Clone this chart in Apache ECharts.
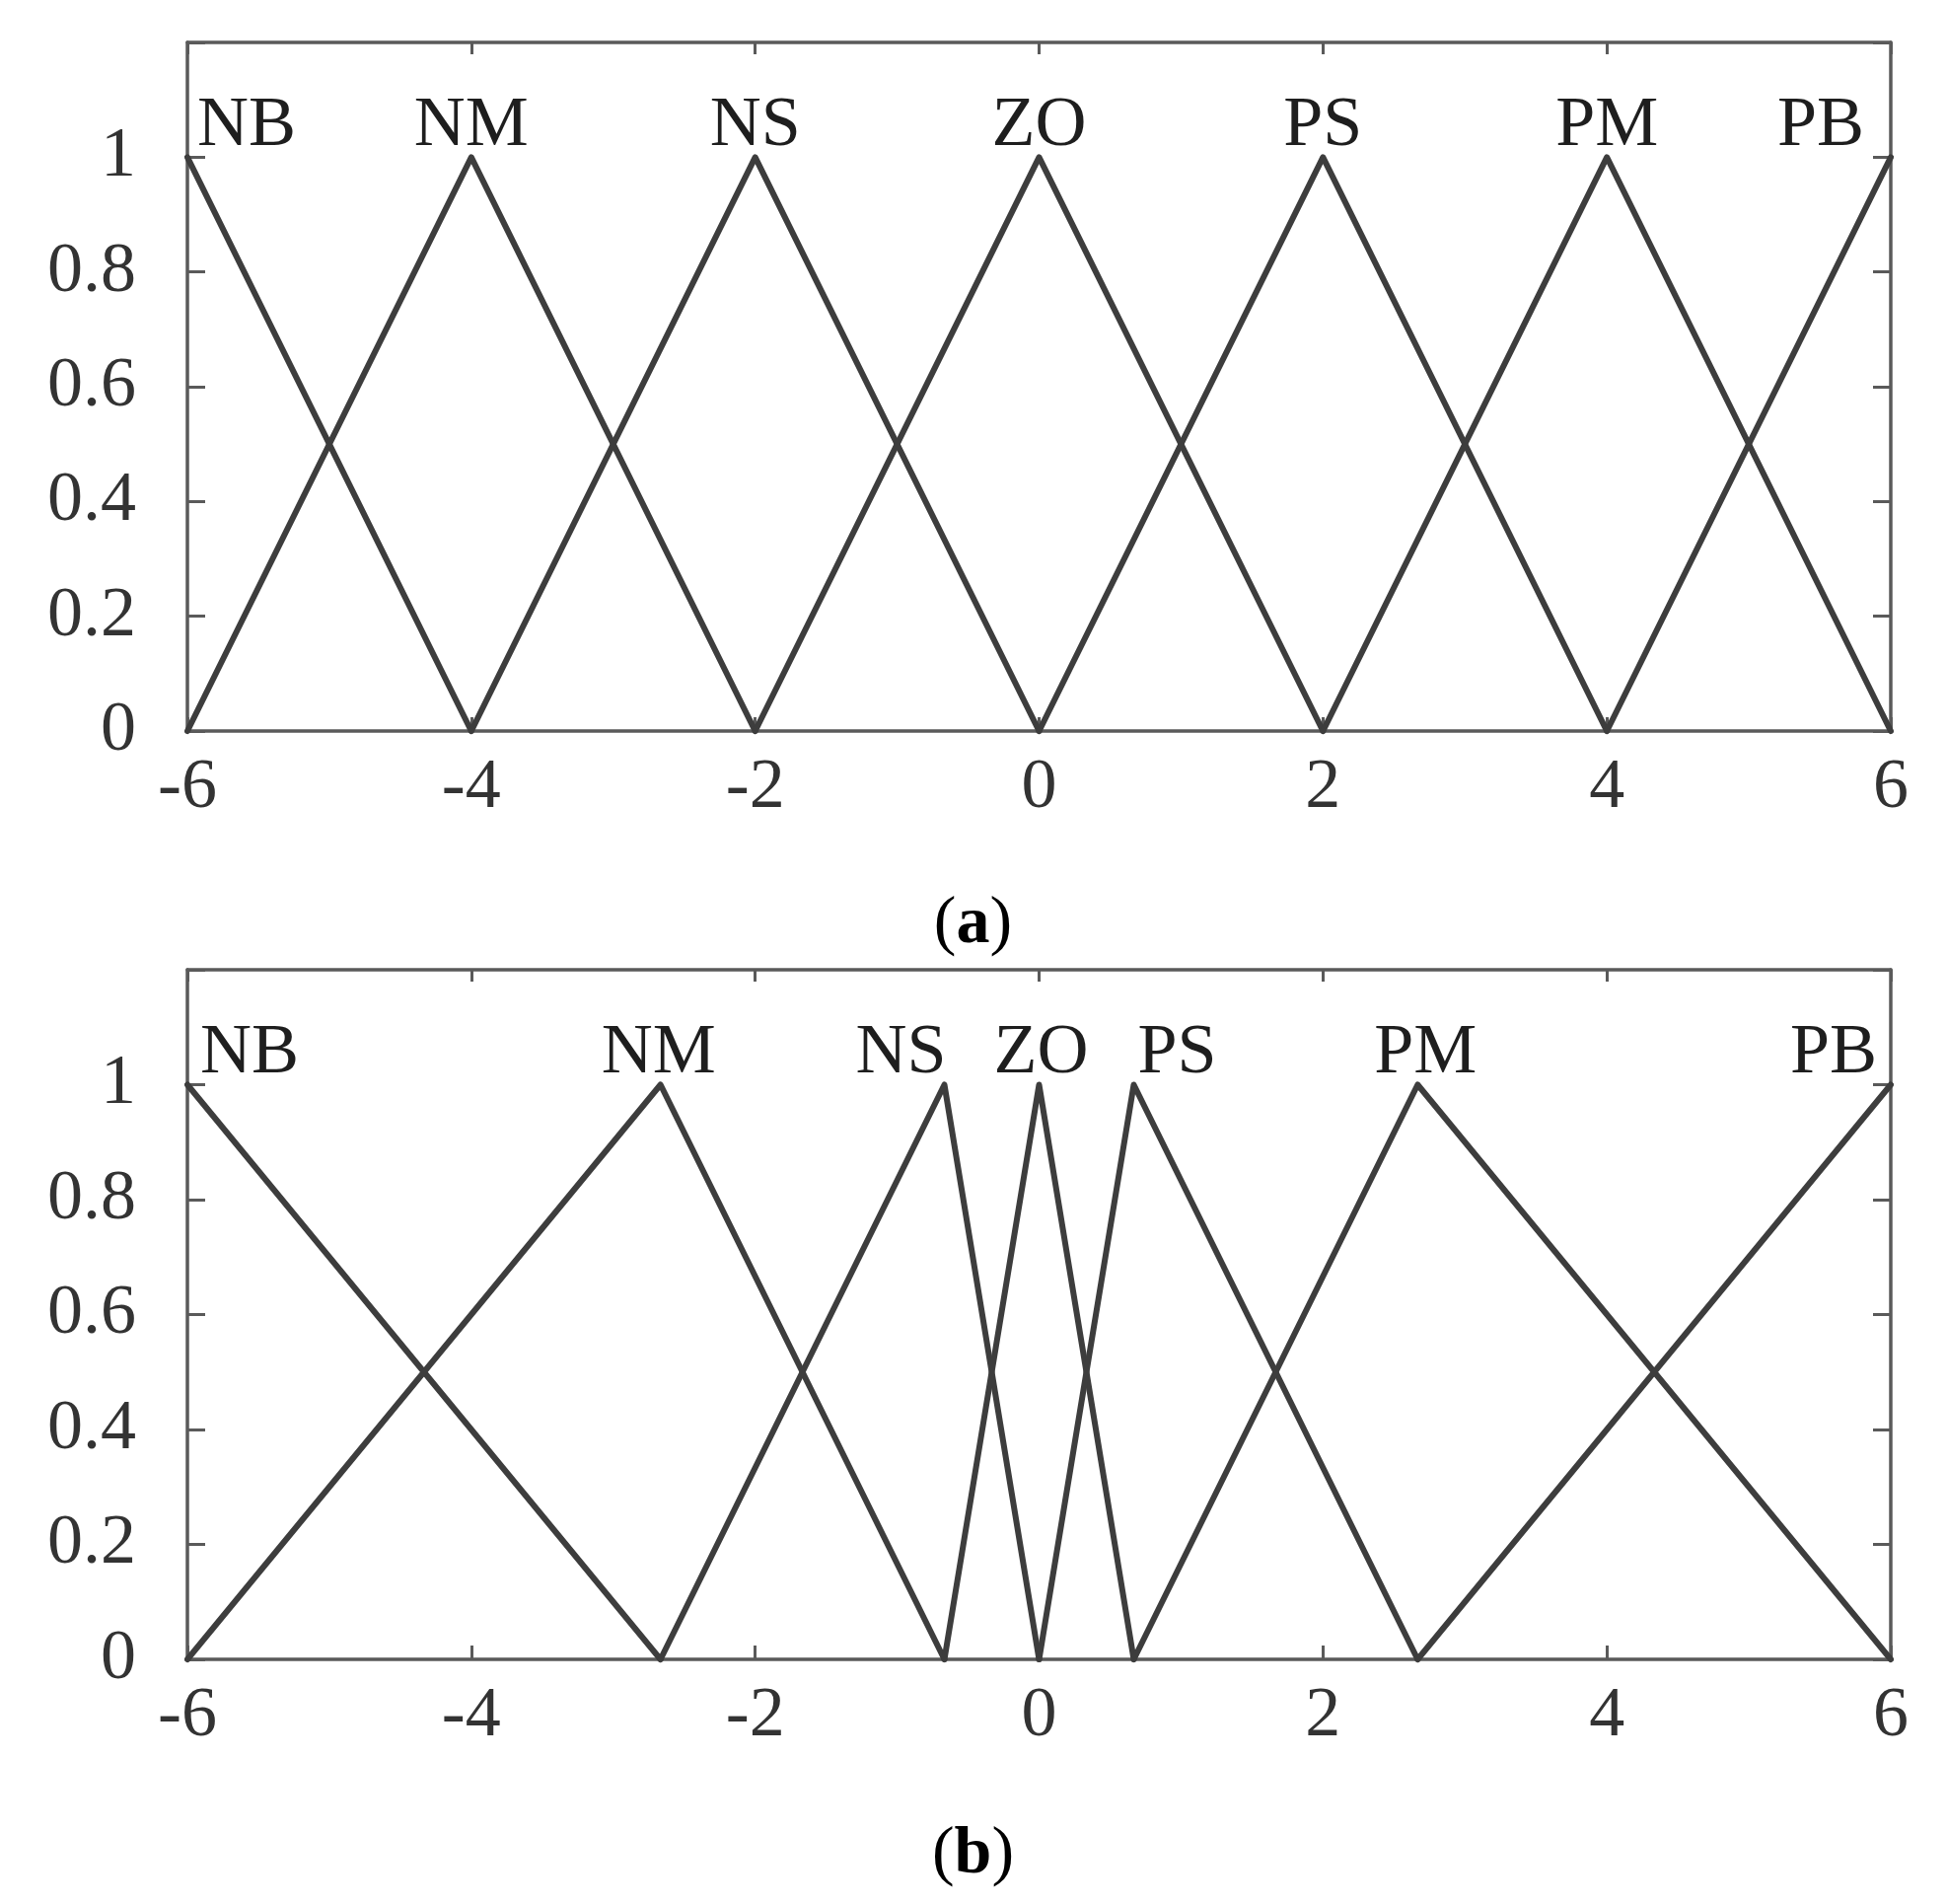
<!DOCTYPE html>
<html>
<head>
<meta charset="utf-8">
<script src="https://cdn.jsdelivr.net/npm/echarts@6/dist/echarts.min.js"></script>
<style>
html,body{margin:0;padding:0;background:#fff;}
#chart{width:1973px;height:1930px;}
</style>
</head>
<body>
<div id="chart"></div>
<script>
// ---- data ----
var setNames = ['NB', 'NM', 'NS', 'ZO', 'PS', 'PM', 'PB'];
var peaksA = [-6, -4, -2, 0, 2, 4, 6];                      // (a) uniform partition
var peaksB = [-6, -2.667, -0.667, 0, 0.667, 2.667, 6];      // (b) non-uniform partition
var xTicks = [-6, -4, -2, 0, 2, 4, 6];
var yTicks = [0, 0.2, 0.4, 0.6, 0.8, 1];
var captions = ['a', 'b'];

// ---- styling ----
var FONT = '"Liberation Serif", "DejaVu Serif", serif';
var LINE = '#3d3d3d';
var FRAME = '#5a5a5a';
var labelStyleA = {
  NB: {align: 'left', dx: 10}, NM: {align: 'center', dx: 0}, NS: {align: 'center', dx: 0},
  ZO: {align: 'center', dx: 0}, PS: {align: 'center', dx: 0}, PM: {align: 'center', dx: 0},
  PB: {align: 'right', dx: -27}
};
var labelStyleB = {
  NB: {align: 'left', dx: 13}, NM: {align: 'center', dx: -2}, NS: {align: 'right', dx: 2},
  ZO: {align: 'center', dx: 2}, PS: {align: 'left', dx: 4}, PM: {align: 'center', dx: 8},
  PB: {align: 'right', dx: -14}
};

var grids = [
  {left: 190, right: 56, top: 43, height: 698},
  {left: 190, right: 56, top: 983, height: 699}
];

function buildSeries(peaks, gi, lstyle) {
  var out = [];
  var labelData = [];
  for (var i = 0; i < peaks.length; i++) {
    var pts = [];
    if (i > 0) pts.push([peaks[i - 1], 0]);
    pts.push([peaks[i], 1]);
    if (i < peaks.length - 1) pts.push([peaks[i + 1], 0]);
    out.push({
      type: 'line', name: setNames[i] + gi, xAxisIndex: gi * 2, yAxisIndex: gi * 2,
      data: pts, symbol: 'none', clip: false, animation: false,
      lineStyle: {color: LINE, width: 6, join: 'round', cap: 'round'}, z: 3
    });
    var ls = lstyle[setNames[i]];
    labelData.push({
      value: [peaks[i], 1], name: setNames[i],
      label: {
        show: true, formatter: setNames[i], position: 'top', distance: 4,
        align: ls.align, offset: [ls.dx, 9], opacity: 1,
        fontFamily: FONT, fontSize: 72, color: '#1e1e1e', textBorderWidth: 0
      }
    });
  }
  out.push({
    type: 'scatter', name: 'labels' + gi, xAxisIndex: gi * 2, yAxisIndex: gi * 2,
    data: labelData, symbolSize: 1, itemStyle: {color: '#ffffff', opacity: 1},
    emphasis: {disabled: true},
    clip: false, animation: false, silent: true, z: 1
  });
  return out;
}

var xAxes = [], yAxes = [];
for (var g = 0; g < 2; g++) {
  xAxes.push({
    gridIndex: g, type: 'value', min: xTicks[0], max: xTicks[xTicks.length - 1], interval: 2,
    position: 'bottom',
    axisLine: {show: true, onZero: false, lineStyle: {color: FRAME, width: 3.5}},
    axisTick: {show: true, inside: true, length: 14, lineStyle: {color: FRAME, width: 3}},
    axisLabel: {show: true, margin: 22, fontFamily: FONT, fontSize: 72, color: '#333'},
    splitLine: {show: false}
  });
  xAxes.push({
    gridIndex: g, type: 'value', min: xTicks[0], max: xTicks[xTicks.length - 1], interval: 2,
    position: 'top',
    axisLine: {show: true, onZero: false, lineStyle: {color: FRAME, width: 3.5}},
    axisTick: {show: true, inside: true, length: 12, lineStyle: {color: FRAME, width: 3}},
    axisLabel: {show: false}, splitLine: {show: false}
  });
  yAxes.push({
    gridIndex: g, type: 'value', min: 0, max: 1.2, interval: 0.2,
    position: 'left',
    axisLine: {show: true, onZero: false, lineStyle: {color: FRAME, width: 3.5}},
    axisTick: {show: true, inside: true, length: 18, lineStyle: {color: FRAME, width: 3}},
    axisLabel: {
      show: true, margin: 52, fontFamily: FONT, fontSize: 72, color: '#333',
      formatter: function (v) {
        for (var k = 0; k < yTicks.length; k++) if (Math.abs(yTicks[k] - v) < 1e-9) return String(yTicks[k]);
        return '';
      }
    },
    splitLine: {show: false}
  });
  yAxes.push({
    gridIndex: g, type: 'value', min: 0, max: 1.2, interval: 0.2,
    position: 'right',
    axisLine: {show: true, onZero: false, lineStyle: {color: FRAME, width: 3.5}},
    axisTick: {show: true, inside: true, length: 18, lineStyle: {color: FRAME, width: 3}},
    axisLabel: {show: false}, splitLine: {show: false}
  });
}

var series = buildSeries(peaksA, 0, labelStyleA).concat(buildSeries(peaksB, 1, labelStyleB));

function caption(letter, top) {
  return {type: 'text', left: 'center', top: top, style: {
    text: '{p|(}{b|' + letter + '}{p|)}', rich: {
      p: {fontFamily: FONT, fontSize: 68, fill: '#000'},
      b: {fontFamily: FONT, fontSize: 68, fontWeight: 'bold', fill: '#000'}
    }}};
}

var chart = echarts.init(document.getElementById('chart'), null, {renderer: 'canvas'});
chart.setOption({
  backgroundColor: '#ffffff',
  animation: false,
  grid: grids,
  xAxis: xAxes,
  yAxis: yAxes,
  series: series,
  graphic: [caption(captions[0], 903), caption(captions[1], 1846)]
});
</script>
</body>
</html>
